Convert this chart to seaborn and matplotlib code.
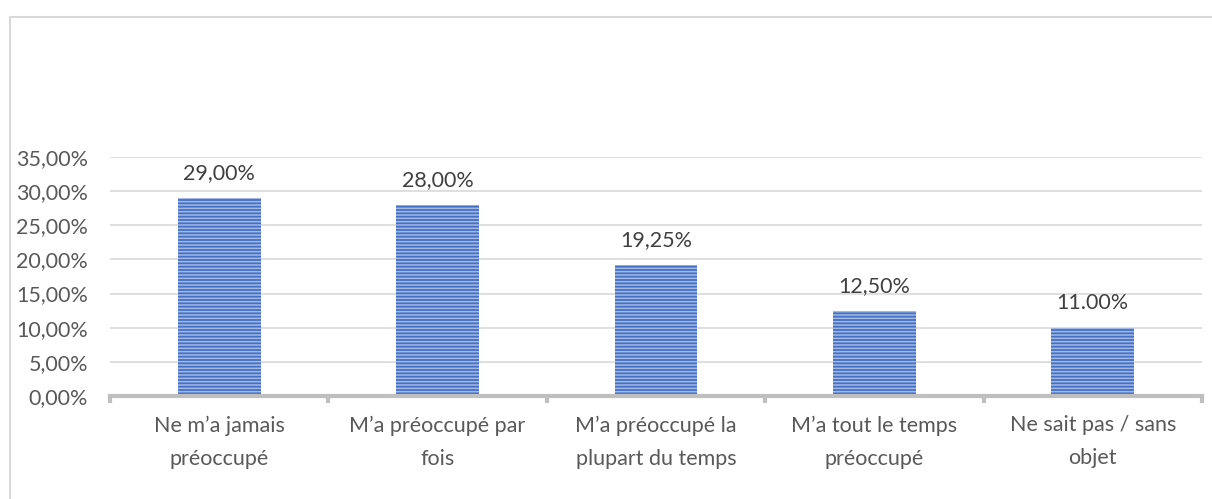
import pandas as pd
import matplotlib
matplotlib.use("Agg")
import matplotlib.pyplot as plt
import seaborn as sns
from matplotlib.lines import Line2D
from matplotlib.ticker import FixedLocator

categories = ["Ne m\u2019a jamais\npréoccupé",
              "M\u2019a préoccupé par\nfois",
              "M\u2019a préoccupé la\nplupart du temps",
              "M\u2019a tout le temps\npréoccupé",
              "Ne sait pas / sans\nobjet"]
values = [29.0, 28.0, 19.25, 12.5, 10.0]
bar_labels = ["29,00%", "28,00%", "19,25%", "12,50%", "11.00%"]
ytick_labels = ["0,00%", "5,00%", "10,00%", "15,00%", "20,00%", "25,00%", "30,00%", "35,00%"]

sns.set_style("white")
plt.rcParams['font.family'] = ['Lato', 'DejaVu Sans']
plt.rcParams['hatch.linewidth'] = 1.1

df = pd.DataFrame({'cat': categories, 'val': values})

fig = plt.figure(figsize=(12.12, 4.99), dpi=100)
ax = fig.add_axes([0.0908, 0.2064, 0.9009, 0.479])

sns.barplot(data=df, x='cat', y='val', color='#4470C6', saturation=1,
            width=0.38, ax=ax)

for p in ax.patches:
    p.set_edgecolor('#A3B9E4')
    p.set_linewidth(0)
    p.set_hatch('-----')

fs = 15.5
for p, lab in zip(ax.patches, bar_labels):
    ax.annotate(lab, (p.get_x() + p.get_width() / 2, p.get_height()),
                xytext=(0, 10.5), textcoords='offset points',
                ha='center', va='bottom', fontsize=fs, color='#404040')

ax.set_ylim(0, 35)
ax.set_xlim(-0.5, len(categories) - 0.5)
ax.set_yticks([i * 5 for i in range(len(ytick_labels))])
ax.set_yticklabels(ytick_labels)
ax.grid(axis='y', color='#D9D9D9', linewidth=1.2)
ax.set_axisbelow(True)

for s in ['left', 'right', 'top']:
    ax.spines[s].set_visible(False)
ax.spines['bottom'].set_color('#BFBFBF')
ax.spines['bottom'].set_linewidth(3)

ax.tick_params(axis='y', length=0, pad=16, labelsize=fs, labelcolor='#595959')
ax.tick_params(axis='x', which='major', length=0, pad=14, labelsize=fs,
               labelcolor='#595959')
ax.xaxis.set_minor_locator(FixedLocator([i - 0.5 for i in range(len(categories) + 1)]))
ax.tick_params(axis='x', which='minor', length=5, width=3, color='#BFBFBF',
               direction='out', bottom=True)
for t in ax.get_xticklabels():
    t.set_linespacing(1.8)
ax.set_xlabel('')
ax.set_ylabel('')

# chart frame (left and top edges visible)
fig.add_artist(Line2D([9.5 / 1212, 9.5 / 1212], [0, 1 - 16.5 / 499],
                      transform=fig.transFigure, color='#D9D9D9', linewidth=1.5))
fig.add_artist(Line2D([9.5 / 1212, 1], [1 - 16.5 / 499, 1 - 16.5 / 499],
                      transform=fig.transFigure, color='#D9D9D9', linewidth=1.5))

fig.savefig('out.png', dpi=100, facecolor='white')
